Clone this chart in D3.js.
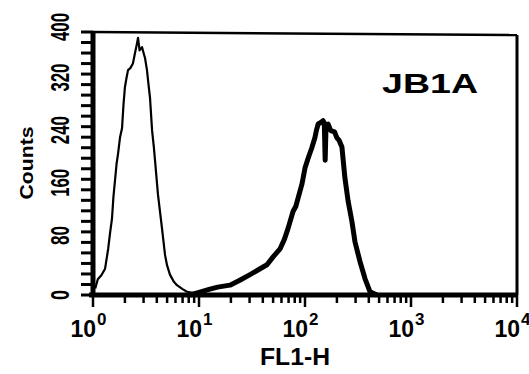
<!DOCTYPE html>
<html>
<head>
<meta charset="utf-8">
<script src="https://cdnjs.cloudflare.com/ajax/libs/d3/7.8.5/d3.min.js"></script>
<style>
  body { margin: 0; background: #fff; }
  text { font-family: "Liberation Sans", Arial, sans-serif; font-weight: bold; fill: #000; }
</style>
</head>
<body>
<div class="grafico"></div>
<script>
var width = 529, height = 374;

var controlFL1 = [1.05, 1.11, 1.2, 1.3, 1.39, 1.45, 1.51, 1.56, 1.61, 1.67, 1.72, 1.8, 1.88, 1.94, 2.0, 2.07, 2.14, 2.25, 2.38, 2.49, 2.58, 2.66, 2.75, 2.9, 3.0, 3.1, 3.23, 3.35, 3.45, 3.61, 3.75, 3.85, 4.1, 4.3, 4.48, 4.78, 5.0, 5.32, 5.8, 6.19, 7.0, 7.71, 9, 11, 14];
var controlCounts = [10, 24, 30, 40, 70, 95, 116, 150, 173, 200, 214, 240, 254, 290, 316, 330, 342, 345, 352, 368, 380, 391, 372, 377, 368, 360, 342, 318, 300, 250, 225, 204, 153, 125, 101, 61, 45, 31, 20, 15, 9, 5, 3, 2, 0];

var jb1aFL1 = [8.2, 10, 12.7, 15, 19.6, 24, 30.3, 36, 43.8, 50, 58.1, 64, 69.1, 77.1, 82, 85.9, 93.7, 100, 107, 116, 124, 128, 133, 140, 148, 152, 155, 158, 165, 175, 190, 200, 210, 223, 238, 255, 277, 296, 330, 368, 410, 478];
var jb1aCounts = [0, 4, 9, 12, 15, 22, 31, 38, 46, 58, 70, 85, 101, 127, 135, 147, 169, 193, 208, 224, 239, 250, 260, 262, 265, 262, 205, 258, 260, 250, 248, 239, 235, 225, 178, 143, 112, 81, 51, 25, 5, 0];

var yLabels = [0, 80, 160, 240, 320, 400];
var yTickStep = 16;
var xDecades = [1, 10, 100, 1000, 10000];
var xExp = ["0", "1", "2", "3", "4"];

var svg = d3.select(".grafico")
  .append("svg")
  .attr("width", width)
  .attr("height", height);

var x = d3.scaleLog().domain([1, 10000]).range([93, 517]),
  y = d3.scaleLinear().domain([0, 400]).range([295, 32]);

// marco
svg.append("line").attr("x1", x(1)).attr("x2", x(1)).attr("y1", y(400)).attr("y2", y(0) + 2)
  .attr("stroke", "#000").attr("stroke-width", 5);
svg.append("line").attr("x1", x(1) - 4).attr("x2", x(10000)).attr("y1", y(0)).attr("y2", y(0))
  .attr("stroke", "#000").attr("stroke-width", 5);
svg.append("line").attr("x1", x(1)).attr("x2", x(10000)).attr("y1", y(400)).attr("y2", y(400) + 3)
  .attr("stroke", "#000").attr("stroke-width", 2.5);
svg.append("line").attr("x1", x(10000)).attr("x2", x(10000)).attr("y1", y(400) + 3).attr("y2", y(0))
  .attr("stroke", "#000").attr("stroke-width", 3);

// etiquetas del eje y
var yLabelLen = { 1: 10, 2: 19, 3: 28 };
yLabels.forEach(function (v) {
  var s = String(v);
  svg.append("text")
    .attr("transform", "translate(69," + (y(v) - (v === 0 ? 0 : v === 400 ? 5 : 7)) + ") rotate(-90)")
    .attr("text-anchor", "middle")
    .attr("font-size", 25)
    .attr("textLength", yLabelLen[s.length])
    .attr("lengthAdjust", "spacingAndGlyphs")
    .text(s);
});

svg.append("text")
  .attr("transform", "translate(33,163) rotate(-90)")
  .attr("text-anchor", "middle")
  .attr("font-size", 19)
  .attr("textLength", 73)
  .attr("lengthAdjust", "spacingAndGlyphs")
  .text("Counts");

// etiquetas del eje x
xDecades.forEach(function (d, i) {
  svg.append("text")
    .attr("x", x(d) + 3)
    .attr("y", 337)
    .attr("text-anchor", "end")
    .attr("font-size", 23)
    .text("10");
  svg.append("text")
    .attr("x", x(d) + 4)
    .attr("y", 325)
    .attr("font-size", 17)
    .text(xExp[i]);
});

svg.append("text")
  .attr("x", 295)
  .attr("y", 365)
  .attr("text-anchor", "middle")
  .attr("font-size", 23)
  .attr("textLength", 70)
  .attr("lengthAdjust", "spacingAndGlyphs")
  .text("FL1-H");

svg.append("text")
  .attr("x", 382)
  .attr("y", 93)
  .attr("font-size", 28)
  .attr("textLength", 96)
  .attr("lengthAdjust", "spacingAndGlyphs")
  .text("JB1A");

// histogramas
var linea = d3.line()
  .x(d => x(d[0]))
  .y(d => y(d[1]));

svg.append("path")
  .datum(controlFL1.map((d, i) => [d, controlCounts[i]]))
  .attr("fill", "none")
  .attr("stroke", "#000")
  .attr("stroke-width", 2.2)
  .attr("stroke-linejoin", "round")
  .attr("d", linea);

svg.append("path")
  .datum(jb1aFL1.map((d, i) => [d, jb1aCounts[i]]))
  .attr("fill", "none")
  .attr("stroke", "#000")
  .attr("stroke-width", 5)
  .attr("stroke-linejoin", "round")
  .attr("d", linea);

// marcas de los ejes
var xTicks = [];
xDecades.forEach(function (d, i) {
  for (var k = 1; k < 10; k++) {
    if (i < 4 || k === 1) xTicks.push(d * k);
  }
});

svg.selectAll("line.xtick")
  .data(xTicks)
  .enter()
  .append("line")
  .attr("class", "xtick")
  .attr("x1", d => x(d))
  .attr("x2", d => x(d))
  .attr("y1", y(0))
  .attr("y2", d => y(0) + (xDecades.indexOf(d) >= 0 ? 12 : 8))
  .attr("stroke", "#000")
  .attr("stroke-width", 2.5);

svg.selectAll("line.ytick")
  .data(d3.range(0, 401, yTickStep))
  .enter()
  .append("line")
  .attr("class", "ytick")
  .attr("x1", x(1) - 12)
  .attr("x2", x(1))
  .attr("y1", d => y(d))
  .attr("y2", d => y(d))
  .attr("stroke", "#000")
  .attr("stroke-width", 3);
</script>
</body>
</html>
